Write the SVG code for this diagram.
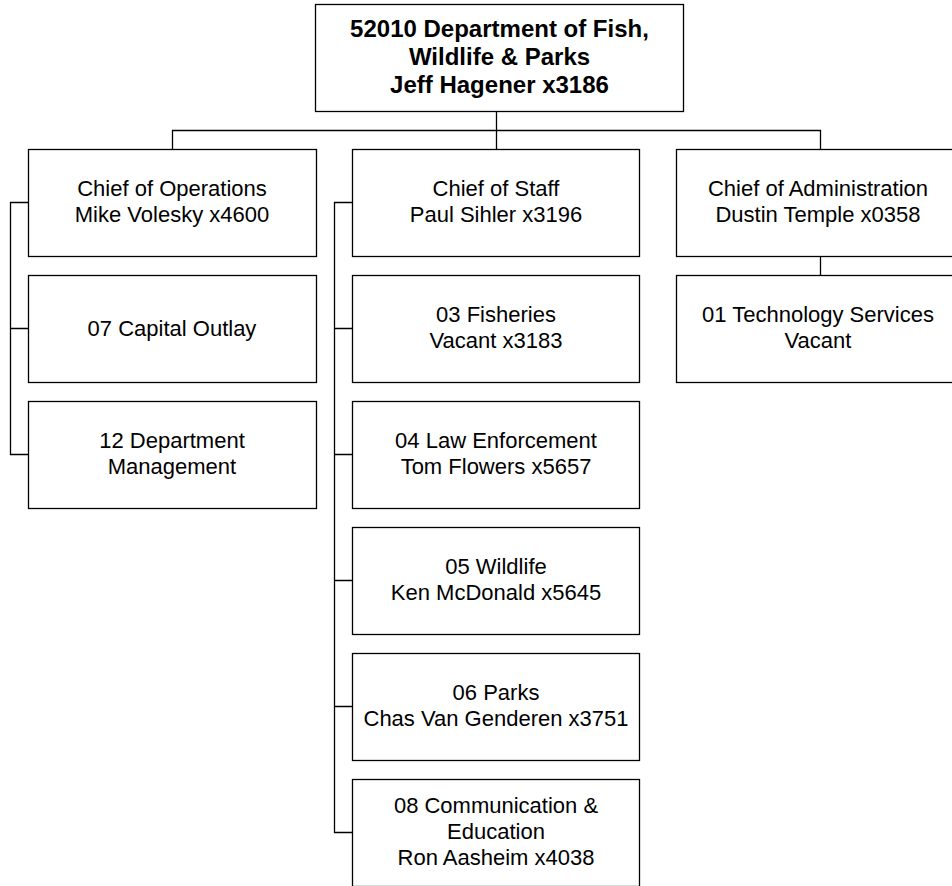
<svg xmlns="http://www.w3.org/2000/svg" width="952" height="886" viewBox="0 0 952 886">
<style>
.box{fill:#fff;stroke:#000;stroke-width:1.3}
.t{font-family:"Liberation Sans",Arial,sans-serif;font-size:22px;fill:#000;text-anchor:middle}
.b{font-weight:bold;font-size:24px}
.c{fill:none;stroke:#000;stroke-width:1.3}
</style>
<rect width="952" height="886" fill="#fff"/>
<g id="connectors" class="c">
<path d="M496.5 112V149.5M172.5 149.5V130.5H820.5V149.5"/>
<path d="M28.5 202.5H10.5V454.5H28.5M10.5 328.5H28.5"/>
<path d="M352.5 202.5H334.5V832.5H352.5M334.5 328.5H352.5M334.5 454.5H352.5M334.5 580.5H352.5M334.5 706.5H352.5"/>
<path d="M820.5 256V275"/>
</g>
<g id="n_root"><rect class="box" x="315.5" y="4.5" width="368" height="107"/>
<text class="t b" x="499.5"><tspan x="499.5" y="37">52010 Department of Fish,</tspan><tspan x="499.5" y="65">Wildlife &amp; Parks</tspan><tspan x="499.5" y="93">Jeff Hagener x3186</tspan></text></g>
<g id="n_ops"><rect class="box" x="28.5" y="149.5" width="288" height="107"/>
<text class="t"><tspan x="172" y="196">Chief of Operations</tspan><tspan x="172" y="222">Mike Volesky x4600</tspan></text></g>
<g id="n_capital"><rect class="box" x="28.5" y="275.5" width="288" height="107"/>
<text class="t" x="172" y="336">07 Capital Outlay</text></g>
<g id="n_mgmt"><rect class="box" x="28.5" y="401.5" width="288" height="107"/>
<text class="t"><tspan x="172" y="448">12 Department</tspan><tspan x="172" y="474">Management</tspan></text></g>
<g id="n_staff"><rect class="box" x="352.5" y="149.5" width="287" height="107"/>
<text class="t"><tspan x="496" y="196">Chief of Staff</tspan><tspan x="496" y="222">Paul Sihler x3196</tspan></text></g>
<g id="n_fish"><rect class="box" x="352.5" y="275.5" width="287" height="107"/>
<text class="t"><tspan x="496" y="322">03 Fisheries</tspan><tspan x="496" y="348">Vacant x3183</tspan></text></g>
<g id="n_law"><rect class="box" x="352.5" y="401.5" width="287" height="107"/>
<text class="t"><tspan x="496" y="448">04 Law Enforcement</tspan><tspan x="496" y="474">Tom Flowers x5657</tspan></text></g>
<g id="n_wild"><rect class="box" x="352.5" y="527.5" width="287" height="107"/>
<text class="t"><tspan x="496" y="574">05 Wildlife</tspan><tspan x="496" y="600">Ken McDonald x5645</tspan></text></g>
<g id="n_parks"><rect class="box" x="352.5" y="653.5" width="287" height="107"/>
<text class="t"><tspan x="496" y="700">06 Parks</tspan><tspan x="496" y="726">Chas Van Genderen x3751</tspan></text></g>
<g id="n_comm"><rect class="box" x="352.5" y="779.5" width="287" height="107"/>
<text class="t"><tspan x="496" y="813">08 Communication &amp;</tspan><tspan x="496" y="839">Education</tspan><tspan x="496" y="865">Ron Aasheim x4038</tspan></text></g>
<g id="n_admin"><rect class="box" x="676.5" y="149.5" width="288" height="107"/>
<text class="t"><tspan x="818" y="196">Chief of Administration</tspan><tspan x="818" y="222">Dustin Temple x0358</tspan></text></g>
<g id="n_tech"><rect class="box" x="676.5" y="275.5" width="288" height="107"/>
<text class="t"><tspan x="818" y="322">01 Technology Services</tspan><tspan x="818" y="348">Vacant</tspan></text></g>
</svg>
